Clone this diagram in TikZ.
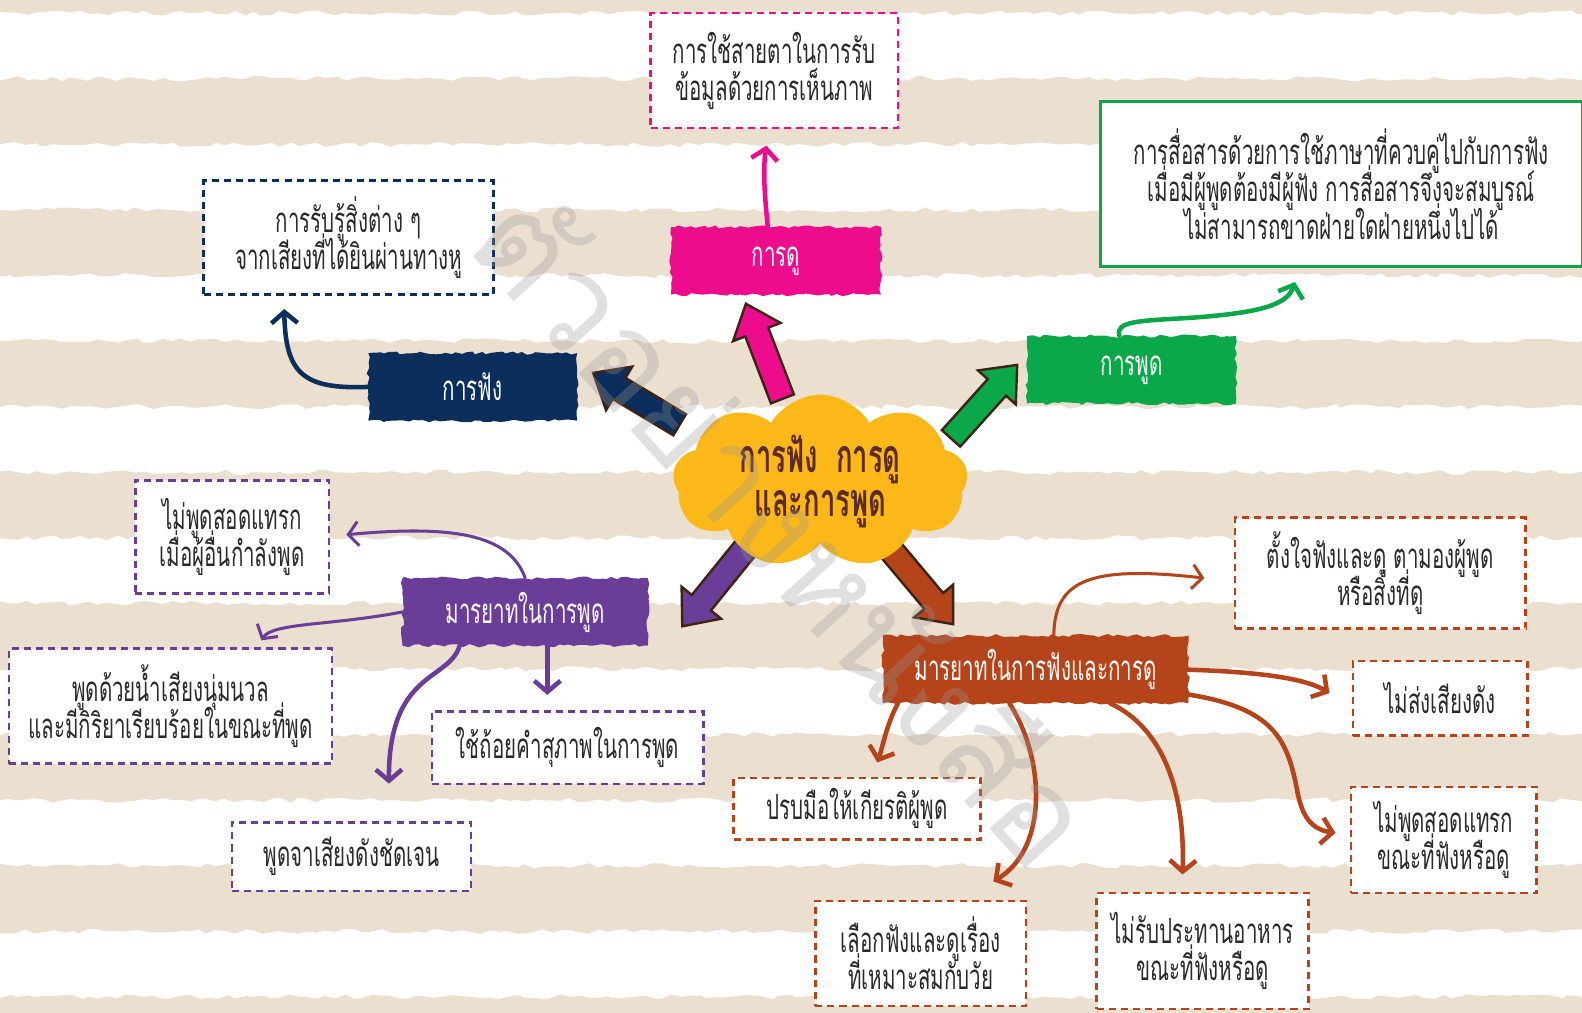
\documentclass[tikz,border=0pt]{standalone}
\usepackage{fontspec}
\newfontfamily\thai[Script=Thai,FakeStretch=0.59]{Loma}
\newfontfamily\thaiwide[Script=Thai]{Loma}
\newcommand\mytightlines{\lineskiplimit=-100pt\relax\lineskip=0pt\relax}
\usetikzlibrary{shapes.symbols,shapes.arrows,arrows.meta,decorations.pathmorphing,calc}
\definecolor{beige}{HTML}{EBDFD0}
\definecolor{pinkc}{HTML}{EC0C8C}
\definecolor{navyc}{HTML}{0C2E5C}
\definecolor{greenc}{HTML}{0BA84A}
\definecolor{purplec}{HTML}{6A3E98}
\definecolor{brownc}{HTML}{B5441A}
\definecolor{cloudc}{HTML}{FBB818}
\definecolor{cloudtext}{HTML}{5B2A20}
\definecolor{outlinec}{HTML}{3D2314}
\definecolor{textc}{HTML}{2A2A2A}
\definecolor{wmark}{HTML}{9A9A9A}
\begin{document}
\begin{tikzpicture}[x=1pt,y=-1pt,
  boxtext/.style={font=\thai\fontsize{34.5}{37}\selectfont\mytightlines, text=textc, align=center},
  dbox/.style={boxtext, draw=#1, fill=white, line width=2.6pt, dash pattern=on 7pt off 5pt, inner sep=0pt},
  banner/.style={fill=#1, text=white, font=\thai\fontsize{34.5}{38}\selectfont, inner sep=0pt,
    decorate, decoration={random steps, segment length=5pt, amplitude=1.6pt}},
  blockarrow/.style={single arrow, fill=#1, draw=outlinec, line width=2.4pt, inner sep=11pt,
    single arrow head extend=13pt, single arrow tip angle=80, anchor=center},
  thick arrow/.style={draw=#1, line width=4.5pt, line cap=round, -{Straight Barb[length=11pt,width=26pt]}},
  thin arrow/.style={draw=#1, line width=3pt, line cap=round, -{Straight Barb[length=10pt,width=24pt]}},
  stripe/.style={fill=beige, decorate, decoration={random steps, segment length=9pt, amplitude=2.5pt}}
]
\pgfmathsetseed{7}
\fill[white] (0,0) rectangle (1582,1013);
% background stripes
\begin{scope}
\clip (0,0) rectangle (1582,1013);
\foreach \k in {0,...,8}{
  \pgfmathsetmacro{\ya}{-52+130*\k}
  \pgfmathsetmacro{\yb}{\ya+65}
  \path[stripe] (-10,\ya) rectangle (1592,\yb);
}
\end{scope}

% dashed / framed boxes
\node[dbox=pinkc, minimum width=245pt, minimum height=114pt] (pinkbox) at (767.5,70) {การใช้สายตาในการรับ\\ข้อมูลด้วยการเห็นภาพ};
\node[boxtext, draw=greenc, fill=white, line width=3pt, minimum width=477pt, minimum height=163pt, inner sep=0pt] (greenbox) at (1329.5,182.5) {การสื่อสารด้วยการใช้ภาษาที่ควบคู่ไปกับการฟัง\\เมื่อมีผู้พูดต้องมีผู้ฟัง การสื่อสารจึงจะสมบูรณ์\\ไม่สามารถขาดฝ่ายใดฝ่ายหนึ่งไปได้};
\node[dbox=navyc, minimum width=287pt, minimum height=113pt] (navybox) at (345.5,235.5) {การรับรู้สิ่งต่าง ๆ\\จากเสียงที่ได้ยินผ่านทางหู};

\node[dbox=purplec, minimum width=192pt, minimum height=112pt] (pbox1) at (230,532) {ไม่พูดสอดแทรก\\เมื่อผู้อื่นกำลังพูด};
\node[dbox=purplec, minimum width=320pt, minimum height=114pt] (pbox2) at (169,700) {พูดด้วยน้ำเสียงนุ่มนวล\\และมีกิริยาเรียบร้อยในขณะที่พูด};
\node[dbox=purplec, minimum width=269pt, minimum height=72pt] (pbox3) at (562.5,741) {ใช้ถ้อยคำสุภาพในการพูด};
\node[dbox=purplec, minimum width=237pt, minimum height=68pt] (pbox4) at (348.5,849) {พูดจาเสียงดังชัดเจน};

\node[dbox=brownc, minimum width=288pt, minimum height=110pt] (bbox1) at (1368,568) {ตั้งใจฟังและดู ตามองผู้พูด\\หรือสิ่งที่ดู};
\node[dbox=brownc, minimum width=173pt, minimum height=74pt] (bbox2) at (1427.5,692) {ไม่ส่งเสียงดัง};
\node[dbox=brownc, minimum width=184pt, minimum height=105pt] (bbox3) at (1431,832.5) {ไม่พูดสอดแทรก\\ขณะที่ฟังหรือดู};
\node[dbox=brownc, minimum width=245pt, minimum height=61pt] (bbox4) at (849.5,801.5) {ปรบมือให้เกียรติผู้พูด};
\node[dbox=brownc, minimum width=209pt, minimum height=104pt] (bbox5) at (912.5,945) {เลือกฟังและดูเรื่อง\\ที่เหมาะสมกับวัย};
\node[dbox=brownc, minimum width=210pt, minimum height=115pt] (bbox6) at (1192,942.5) {ไม่รับประทานอาหาร\\ขณะที่ฟังหรือดู};

% banners
\node[banner=pinkc, minimum width=208pt, minimum height=67pt] (duban) at (769,258.5) {การดู};
\node[banner=navyc, minimum width=207pt, minimum height=67pt] (fangban) at (468.5,383.5) {การฟัง};
\node[banner=greenc, minimum width=207pt, minimum height=67pt] (phutban) at (1121.5,366.5) {การพูด};
\node[banner=purplec, minimum width=243pt, minimum height=67pt] (pban) at (520.5,606.5) {มารยาทในการพูด};
\node[banner=brownc, minimum width=303pt, minimum height=67pt] (bban) at (1026.5,663.5) {มารยาทในการฟังและการดู};

% block arrows from the centre
\node[blockarrow=pinkc, minimum height=101pt, rotate=111] (a1) at (760,355) {};
\node[blockarrow=navyc, minimum height=100pt, rotate=149] (a2) at (637,399) {};
\node[blockarrow=greenc, minimum height=98pt, rotate=48] (a3) at (970.5,403.5) {};
\node[blockarrow=purplec, minimum height=107pt, rotate=231] (a4) at (714.5,573.5) {};
\node[blockarrow=brownc, minimum height=106pt, rotate=310] (a5) at (906,572.5) {};

% centre cloud
\node[cloud, cloud puffs=9, cloud puff arc=120, aspect=1.9, fill=cloudc, minimum width=292pt, minimum height=160pt,
  font=\thai\bfseries\fontsize{46}{44}\selectfont\mytightlines, text=cloudtext, align=center, inner sep=0pt] (center) at (813,477) {การฟัง\ \ การดู\\และการพูด};

% connectors
\draw[thick arrow=pinkc] ($(duban.north)+(-8,0)$) .. controls (758,195) and (756,170) .. ($(pinkbox.south)+(-8,16)$);
\draw[thick arrow=navyc] (fangban.west) .. controls (300,386) and (283,370) .. ($(navybox.south west)+(81,13)$);
\draw[thick arrow=greenc] ($(phutban.north)+(-12,0)$) .. controls (1105,318) and (1130,318) .. (1180,315)
   .. controls (1250,310) and (1276,302) .. ($(greenbox.south west)+(194,14)$);

\draw[thin arrow=purplec] (pban.north) .. controls (505,530) and (450,520) .. ($(pbox1.east)+(16,-2)$);
\draw[thin arrow=purplec] (pban.west) .. controls (330,620) and (270,617) .. ($(pbox2.north)+(90,-7)$);
\draw[thick arrow=purplec] ($(pban.south)+(22,0)$) -- ($(pbox3.north)+(-20,-15)$);
\draw[thick arrow=purplec] ($(pban.south)+(-65,0)$) .. controls (445,675) and (385,665) .. ($(pbox4.north)+(37,-37)$);

\draw[thin arrow=brownc] ($(bban.north)+(18,0)$) .. controls (1045,575) and (1080,560) .. ($(bbox1.west)+(-29,5)$);
\draw[thick arrow=brownc] ($(bban.east)+(-10,0)$) .. controls (1230,665) and (1290,670) .. ($(bbox2.west)+(-22,-5)$);
\draw[thick arrow=brownc] ($(bban.south east)+(-8,-10)$) .. controls (1260,700) and (1275,730) .. (1285,780)
   .. controls (1290,810) and (1300,822) .. ($(bbox3.west)+(-14,-7)$);
\draw[thick arrow=brownc] ($(bban.south west)+(15,0)$) .. controls (878,720) and (875,740) .. ($(bbox4.north)+(20,-14)$);
\draw[thick arrow=brownc] ($(bban.south)+(-26,0)$) .. controls (1035,750) and (1040,840) .. ($(bbox5.north)+(72,-18)$);
\draw[thick arrow=brownc] ($(bban.south)+(74,0)$) .. controls (1150,720) and (1175,780) .. ($(bbox6.north)+(-20,-17)$);

% faint diagonal watermark
\node[rotate=-48, text=wmark, opacity=0.3, font=\thaiwide\fontsize{130}{140}\selectfont, inner sep=0pt] (wm) at (782,520) {ตัวอย่างหนังสือ};

\pgfresetboundingbox
\useasboundingbox (0,0) rectangle (1568,1004);
\end{tikzpicture}
\end{document}
